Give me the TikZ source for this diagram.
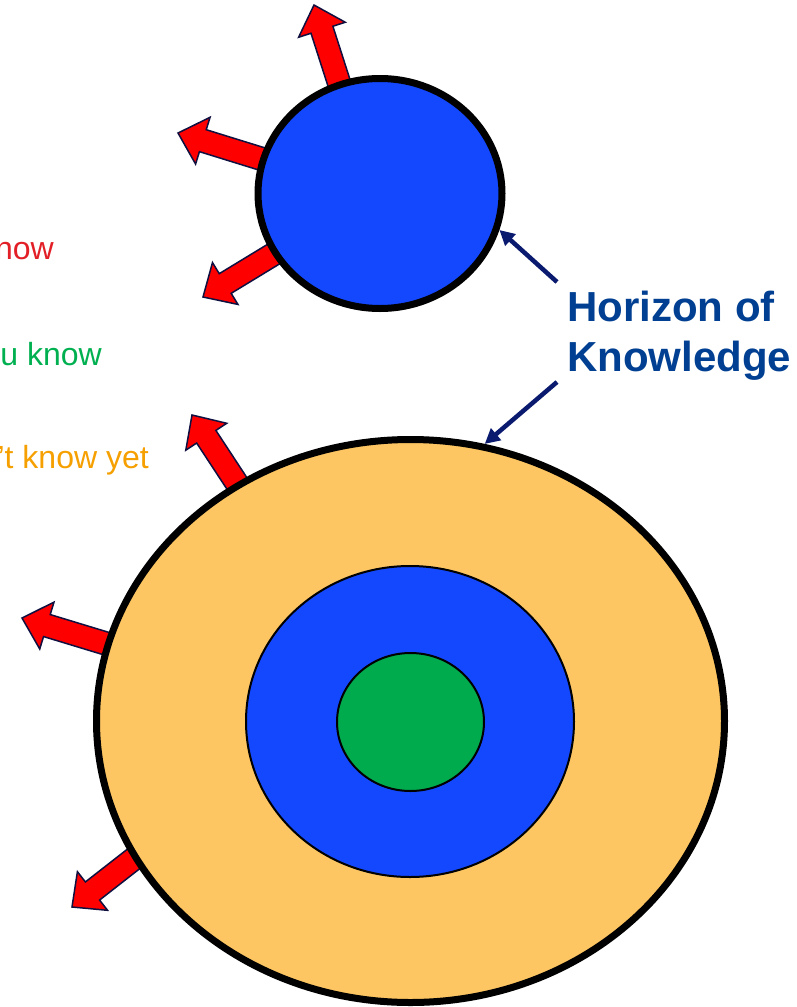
\documentclass[tikz,border=0pt]{standalone}
\usepackage{fontspec}
\setmainfont{Liberation Sans}
\usetikzlibrary{shapes.geometric,arrows.meta}
\definecolor{bluefill}{RGB}{20,72,255}
\definecolor{orangefill}{RGB}{253,198,99}
\definecolor{greenfill}{RGB}{0,171,78}
\definecolor{arrowred}{RGB}{255,0,0}
\definecolor{arrowline}{RGB}{15,16,64}
\definecolor{hblue}{RGB}{0,63,145}
\definecolor{connblue}{RGB}{10,26,110}
\definecolor{tred}{RGB}{226,31,38}
\definecolor{tgreen}{RGB}{0,176,80}
\definecolor{torange}{RGB}{245,160,0}
\tikzset{
  blockarrow/.pic={
    \draw[fill=arrowred, draw=arrowline, line width=1.5, line join=miter]
      (0,0) -- (-26,-24.5) -- (-26,-11.5) -- (-95,-11.5) -- (-95,11.5) -- (-26,11.5) -- (-26,24.5) -- cycle;
  },
  horizon/.style={ellipse, draw=black, line width=7, outer sep=3.5, inner sep=0},
  inner/.style={ellipse, draw=black, line width=2, outer sep=1, inner sep=0},
  sidetext/.style={anchor=base east, inner sep=0, font=\fontsize{32}{38}\selectfont},
  conn/.style={draw=connblue, line width=4.5, -{Triangle[length=15,width=15]}}
}
\begin{document}
\begin{tikzpicture}[x=1pt,y=-1pt]
\path[use as bounding box] (0,0) rectangle (796,1007);
\clip (0,0) rectangle (796,1007);
% red block arrows, small circle
\pic[rotate=107.8] at (314,5) {blockarrow};
\pic[rotate=162.8] at (178,133) {blockarrow};
\pic[rotate=211.3] at (203,297) {blockarrow};
% red block arrows, big circle
\pic[rotate=123.3] at (192,415) {blockarrow};
\pic[rotate=163.1] at (22,618) {blockarrow};
\pic[rotate=218] at (72,907) {blockarrow};
% circles
\node[horizon, fill=bluefill, minimum width=244, minimum height=230] (small) at (380,193.5) {};
\node[horizon, fill=orangefill, minimum width=628, minimum height=563] (big) at (410.5,721) {};
\node[inner, fill=bluefill, minimum width=328, minimum height=311] (mid) at (410,721.5) {};
\node[inner, fill=greenfill, minimum width=147, minimum height=138] (core) at (410.5,722) {};
% side texts
\node[sidetext, text=tred] (t1) at (54,259) {now};
\node[sidetext, text=tgreen] (t2) at (102,365) {u know};
\node[sidetext, text=torange] (t3) at (149,468) {’t know yet};
% label
\node[anchor=north west, inner sep=0, align=left, text=hblue,
      font=\bfseries\fontsize{42}{50}\selectfont] (hk) at (567,291) {Horizon of\\Knowledge};
\coordinate (c1) at (557,282);
\coordinate (c2) at (557,382);
\draw[conn] (c1) -- (small.-17.8);
\draw[conn] (c2) -- (big.75);
\end{tikzpicture}
\end{document}
